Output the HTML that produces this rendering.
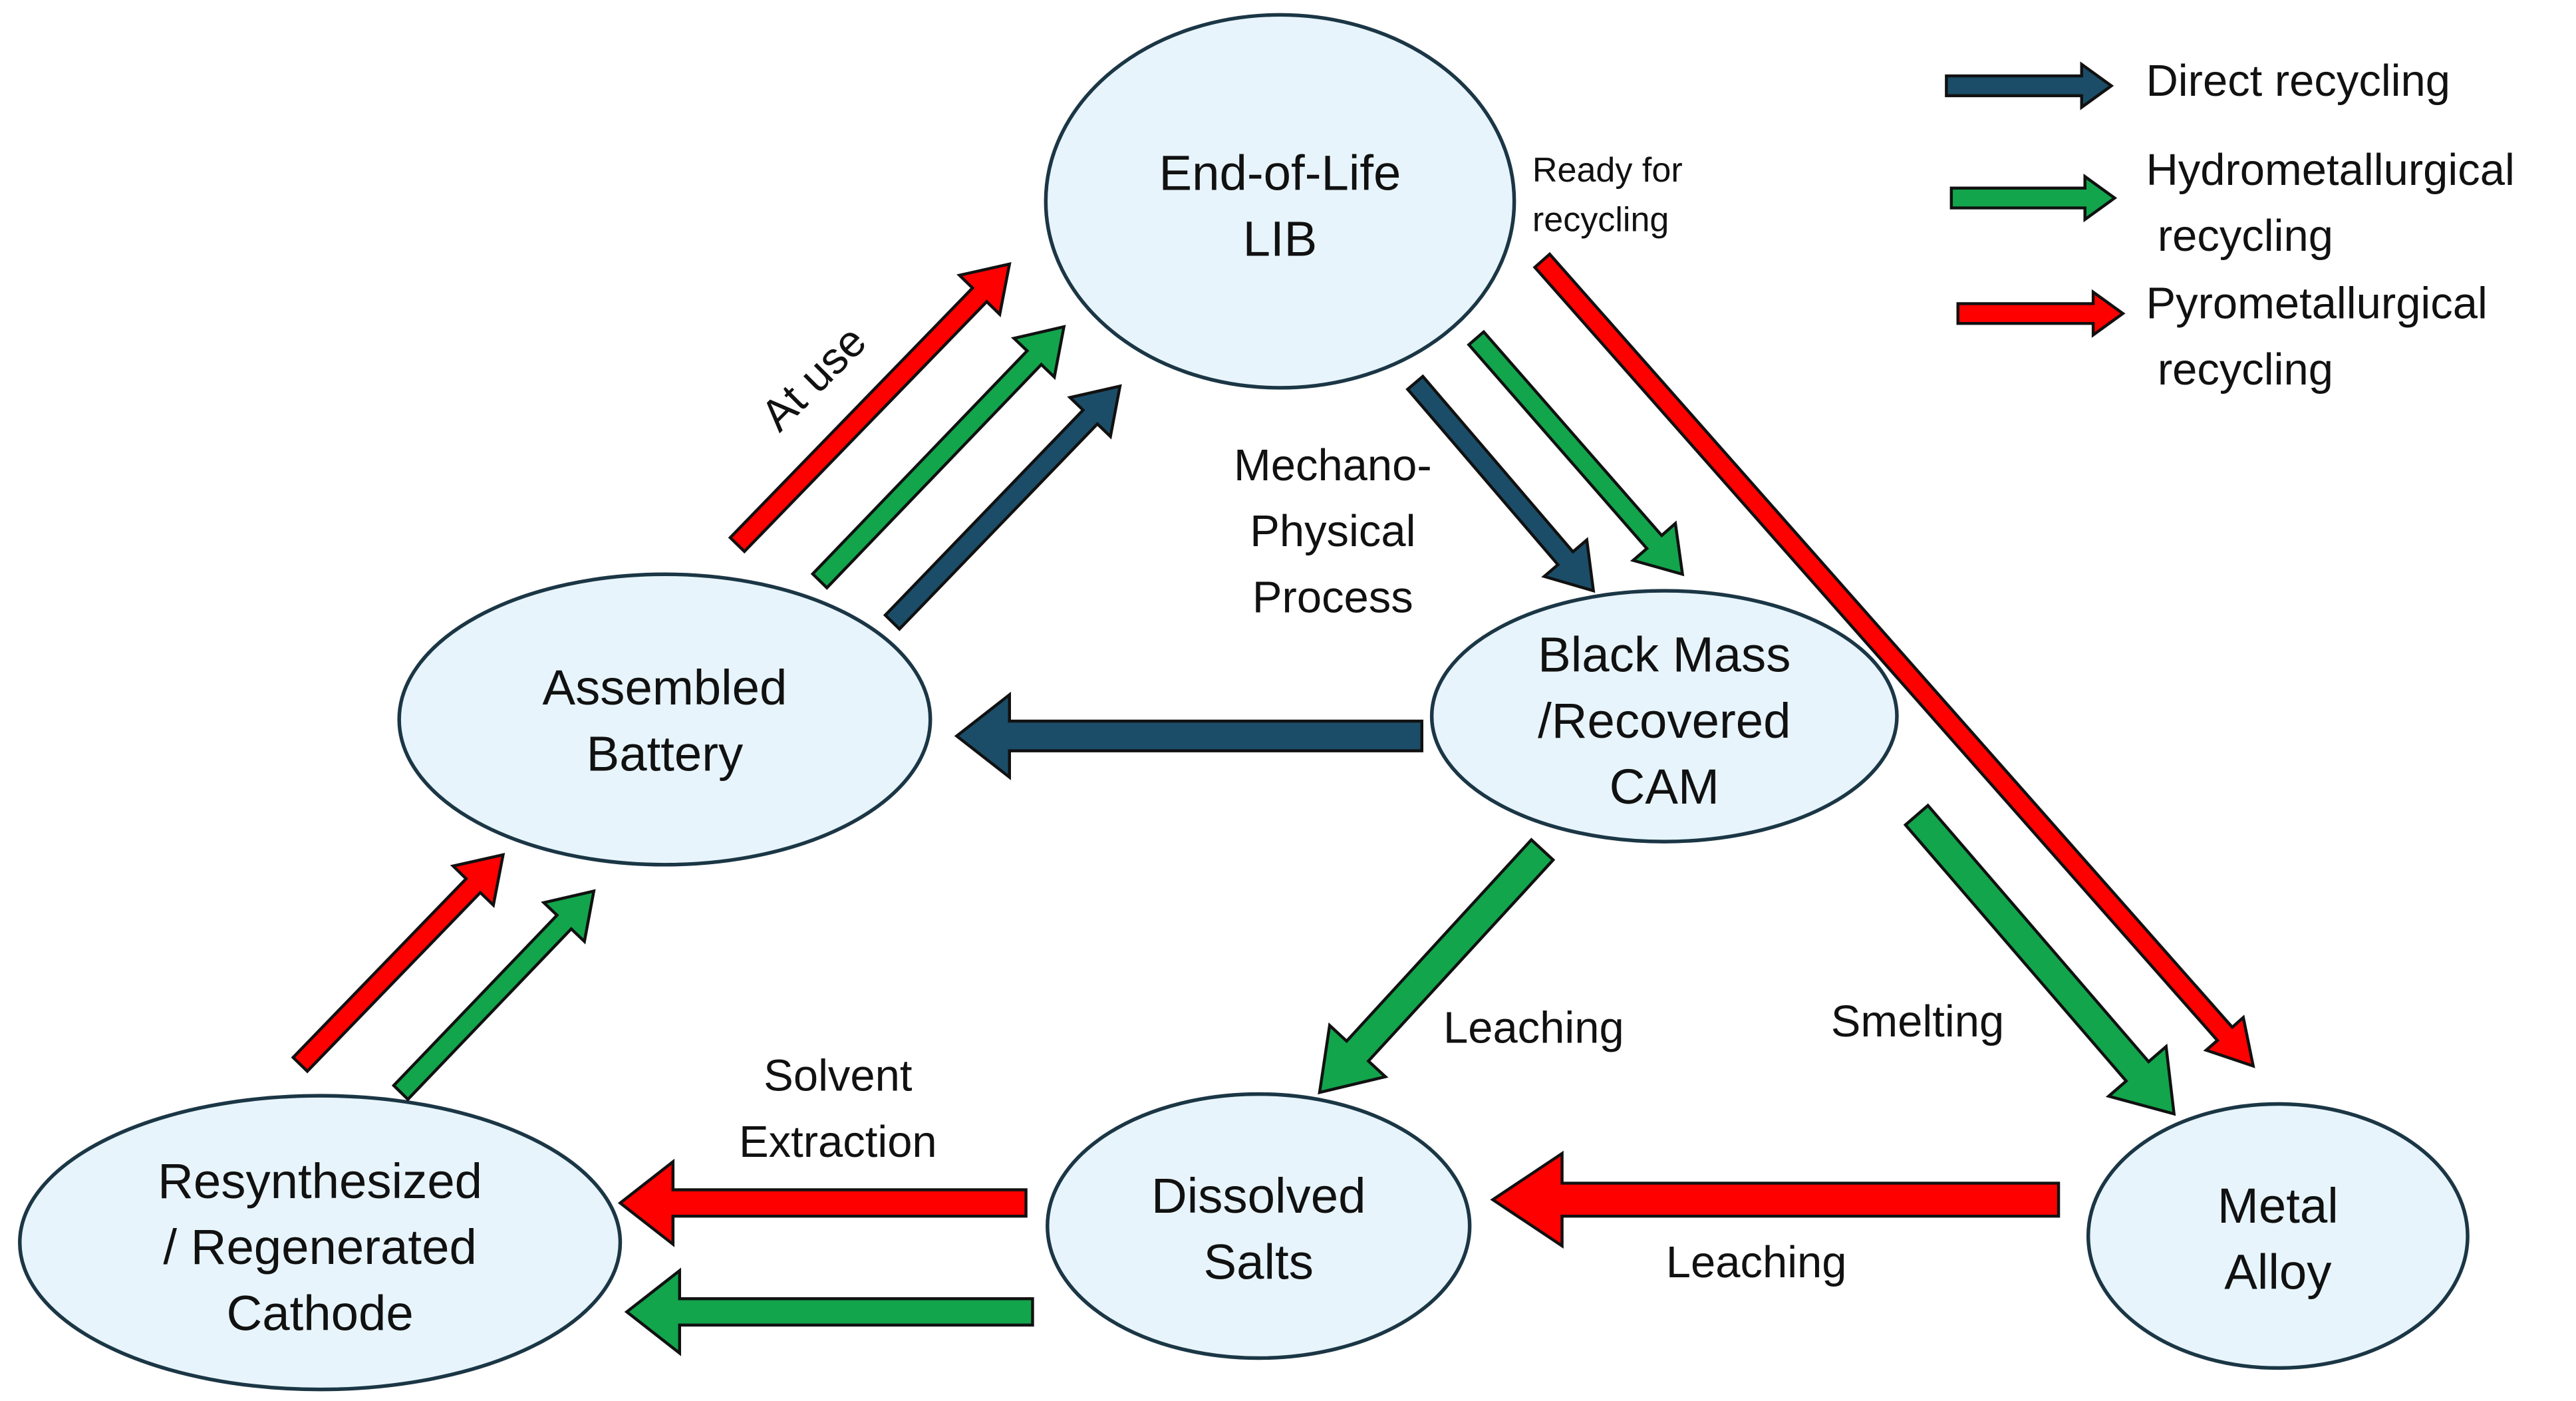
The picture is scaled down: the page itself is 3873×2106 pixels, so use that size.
<!DOCTYPE html>
<html><head><meta charset="utf-8">
<style>
html,body{margin:0;padding:0;background:#fff;}
svg{display:block;}
text{font-family:"Liberation Sans",Arial,sans-serif;fill:#111;}
</style></head>
<body>
<svg id="s" width="3873" height="2106" viewBox="0 0 1561.7 849" preserveAspectRatio="none" xmlns="http://www.w3.org/2000/svg">
<g fill="#e7f4fb" stroke="#1b3645" stroke-width="2.2">
<ellipse cx="776" cy="122" rx="142" ry="113"/>
<ellipse cx="403" cy="436" rx="161" ry="88"/>
<ellipse cx="1009" cy="434" rx="141" ry="76"/>
<ellipse cx="194" cy="753" rx="182" ry="89"/>
<ellipse cx="763" cy="743" rx="128" ry="80"/>
<ellipse cx="1381" cy="749" rx="115" ry="80"/>
</g>
<g id="arrows" stroke="#111" stroke-width="1.8" stroke-linejoin="miter"></g>
<g font-size="30" text-anchor="middle">
<text x="776" y="115">End-of-Life</text><text x="776" y="155">LIB</text>
<text x="403" y="427">Assembled</text><text x="403" y="467">Battery</text>
<text x="1009" y="407">Black Mass</text><text x="1009" y="447">/Recovered</text><text x="1009" y="487">CAM</text>
<text x="194" y="726">Resynthesized</text><text x="194" y="766">/ Regenerated</text><text x="194" y="806">Cathode</text>
<text x="763" y="735">Dissolved</text><text x="763" y="775">Salts</text>
<text x="1381" y="741">Metal</text><text x="1381" y="781">Alloy</text>
</g>
<g font-size="27">
<text x="1301" y="58">Direct recycling</text>
<text x="1301" y="112">Hydrometallurgical</text><text x="1308" y="152">recycling</text>
<text x="1301" y="193">Pyrometallurgical</text><text x="1308" y="233">recycling</text>
<text x="929" y="110" font-size="21">Ready for</text><text x="929" y="140" font-size="21">recycling</text>
<text x="494" y="238" text-anchor="middle" transform="rotate(-45 494 230)">At use</text>
<g text-anchor="middle"><text x="808" y="291">Mechano-</text><text x="808" y="331">Physical</text><text x="808" y="371">Process</text>
<text x="508" y="661">Solvent</text><text x="508" y="701">Extraction</text></g>
<text x="875" y="632">Leaching</text>
<text x="1110" y="628">Smelting</text>
<text x="1010" y="774">Leaching</text>
</g>
</svg>
<script>
var R="#ff0000",G="#12a54c",B="#1b4d68";
var A=[
[447,330,612,160,12,34,26,R],[497,352,645,198,12,34,26,G],[541,377,679,234,12,34,26,B],
[858,232,966,358,12,34,26,B],[895,205,1020,348,12,34,26,G],[935,158,1366,646,12,30,26,R],
[862,446,580,446,18,50,32,B],[935,515,800,662,18,46,34,G],[1162,494,1318,675,18,46,34,G],
[1248,727,905,727,20,56,42,R],[622,729,376,729,16,50,32,R],[626,795,380,795,16,50,32,G],
[182,645,305,518,12,34,26,R],[243,662,360,540,12,34,26,G],
[1180,52,1280,52,12,26,18,B],[1183,120,1282,120,12,26,18,G],[1187,190,1287,190,12,26,18,R]];
var g=document.getElementById("arrows"),h="";
A.forEach(function(a){var x1=a[0],y1=a[1],x2=a[2],y2=a[3],w=a[4]/2,hw=a[5]/2,hl=a[6];
var dx=x2-x1,dy=y2-y1,L=Math.hypot(dx,dy),ux=dx/L,uy=dy/L,px=-uy,py=ux;
var bx=x2-ux*hl,by=y2-uy*hl;
var p=[[x1+px*w,y1+py*w],[bx+px*w,by+py*w],[bx+px*hw,by+py*hw],[x2,y2],[bx-px*hw,by-py*hw],[bx-px*w,by-py*w],[x1-px*w,y1-py*w]];
h+='<polygon fill="'+a[7]+'" points="'+p.map(function(q){return q[0].toFixed(1)+","+q[1].toFixed(1)}).join(" ")+'"/>';});
g.innerHTML=h;
</script>
</body></html>
